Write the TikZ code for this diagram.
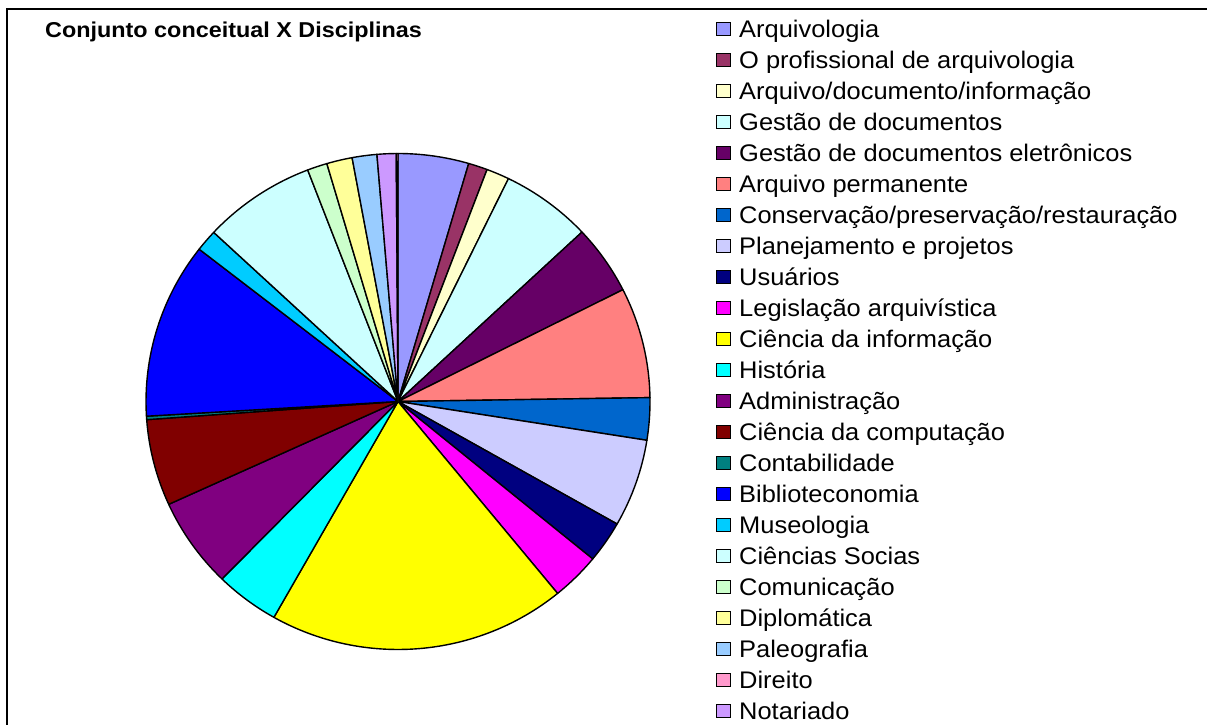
\documentclass[tikz,border=0pt]{standalone}
\usepackage{fontspec}
\setmainfont{Liberation Sans}
\usetikzlibrary{positioning}

% Excel default chart palette
\definecolor{c1}{HTML}{9999FF}
\definecolor{c2}{HTML}{993366}
\definecolor{c3}{HTML}{FFFFCC}
\definecolor{c4}{HTML}{CCFFFF}
\definecolor{c5}{HTML}{660066}
\definecolor{c6}{HTML}{FF8080}
\definecolor{c7}{HTML}{0066CC}
\definecolor{c8}{HTML}{CCCCFF}
\definecolor{c9}{HTML}{000080}
\definecolor{c10}{HTML}{FF00FF}
\definecolor{c11}{HTML}{FFFF00}
\definecolor{c12}{HTML}{00FFFF}
\definecolor{c13}{HTML}{800080}
\definecolor{c14}{HTML}{800000}
\definecolor{c15}{HTML}{008080}
\definecolor{c16}{HTML}{0000FF}
\definecolor{c17}{HTML}{00CCFF}
\definecolor{c18}{HTML}{CCFFFF}
\definecolor{c19}{HTML}{CCFFCC}
\definecolor{c20}{HTML}{FFFF99}
\definecolor{c21}{HTML}{99CCFF}
\definecolor{c22}{HTML}{FF99CC}
\definecolor{c23}{HTML}{CC99FF}

\begin{document}
\begin{tikzpicture}[x=1pt, y=-1pt, every node/.style={inner sep=0pt},
  slice/.style={draw=black, line width=1.4pt, line join=round},
  key/.style={draw=black, line width=1pt, minimum width=14pt, minimum height=13pt},
  keytext/.style={font=\fontsize{24}{24}\selectfont, xscale=1.06, anchor=base west}]
\useasboundingbox (0,0) rectangle (1207,725);
\draw[line width=2pt] (7,740) -- (7,9) -- (1220,9);

\node[font=\bfseries\fontsize{21.5}{22}\selectfont, xscale=1.087, anchor=west] (title) at (45,32) {Conjunto conceitual X Disciplinas};

% pie
\begin{scope}[shift={(398,401.5)}, yscale=-1]
\foreach \a/\b/\c in {90/73.7/c1, 73.7/69.3/c2, 69.3/64.0/c3, 64.0/43.1/c4, 43.1/26.8/c5,
  26.8/0.9/c6, 0.9/-9.0/c7, -9.0/-29.6/c8, -29.6/-39.4/c9, -39.4/-50.7/c10,
  -50.7/-119.5/c11, -119.5/-134.3/c12, -134.3/-155.5/c13, -155.5/-175.8/c14,
  -175.8/-176.6/c15, -176.6/-217.9/c16, -217.9/-223.0/c17, -223.0/-249.0/c18,
  -249.0/-253.6/c19, -253.6/-259.5/c20, -259.5/-265.2/c21, -265.2/-269.6/c23,
  -269.6/-270/c22}
  \draw[slice, fill=\c] (0,0) -- (\a:252 and 248)
    arc[start angle=\a, end angle=\b, x radius=252, y radius=248] -- cycle;
\end{scope}

% legend
\foreach \lbl [count=\i] in {Arquivologia, O profissional de arquivologia,
  Arquivo/documento/informação, Gestão de documentos,
  Gestão de documentos eletrônicos, Arquivo permanente,
  Conservação/preservação/restauração, Planejamento e projetos, Usuários,
  Legislação arquivística, Ciência da informação, História, Administração,
  Ciência da computação, Contabilidade, Biblioteconomia, Museologia,
  Ciências Socias, Comunicação, Diplomática, Paleografia, Direito, Notariado}
{
  \node[key, fill=c\i] (key\i) at (723.5, {29+31*(\i-1)}) {};
  \node[keytext] (lab\i) at ([xshift=8pt, yshift=-8.5pt]key\i.east) {\lbl};
}
\end{tikzpicture}
\end{document}
